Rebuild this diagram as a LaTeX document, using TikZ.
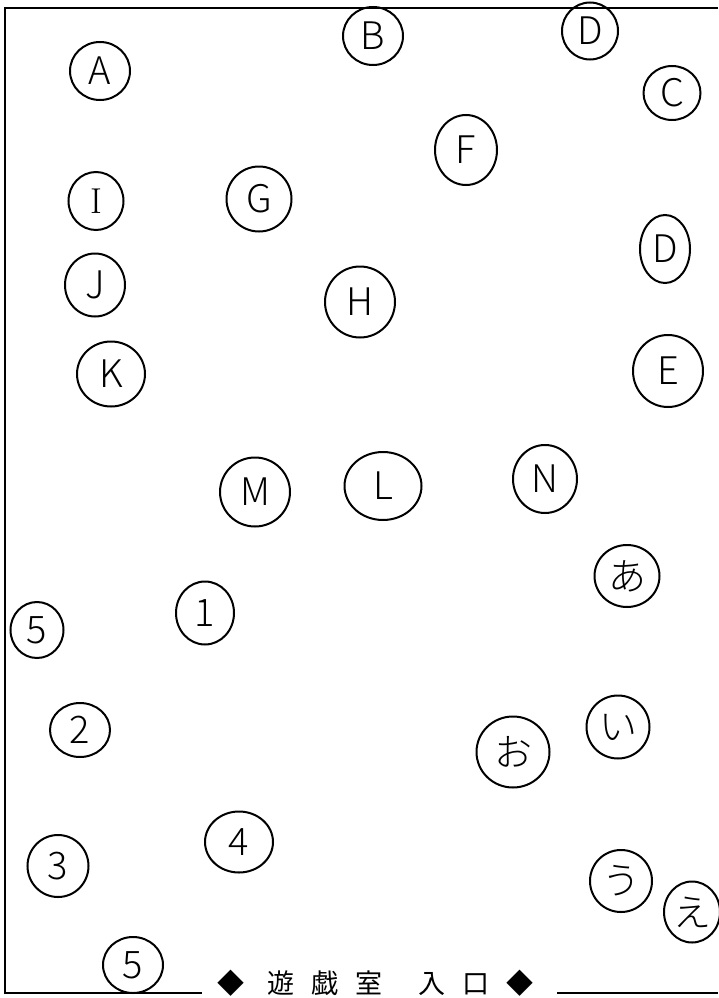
\documentclass[tikz,border=0pt]{standalone}
\usepackage{fontspec}
\usepackage{tikz}
\usetikzlibrary{shapes.geometric,positioning}
\newfontfamily\jp{Noto Sans CJK JP Light}
\newfontfamily\jpsign{Noto Sans CJK JP}

\begin{document}
\begin{tikzpicture}[
    x=1pt, y=-1pt,
    seat/.style={ellipse, draw, line width=2pt, inner sep=0pt, font=\jp\fontsize{38}{38}\selectfont},
    wall/.style={line width=2.2pt},
    sign/.style={font=\jpsign\fontsize{27}{27}\selectfont, inner sep=0pt}
]
\useasboundingbox (0,0) rectangle (718,998);

% Top rows
\node[seat, minimum width=60pt, minimum height=58pt] (a) at (100,71) {A};
\node[seat, minimum width=60pt, minimum height=58pt] (b) at (373,36) {B};
\node[seat, minimum width=56pt, minimum height=57pt] (d1) at (590,31) {D};
\node[seat, minimum width=57pt, minimum height=54pt] (c) at (672,93) {C};
\node[seat, minimum width=62pt, minimum height=70pt] (f) at (466,150) {F};
\node[seat, minimum width=55pt, minimum height=58pt, font=\rmfamily\fontsize{36}{36}\selectfont] (i) at (96,201) {I};
\node[seat, minimum width=65pt, minimum height=65pt] (g) at (259,199) {G};
\node[seat, minimum width=50pt, minimum height=68pt] (d2) at (665,249) {D};
\node[seat, minimum width=60pt, minimum height=63pt] (j) at (95,285) {J};
\node[seat, minimum width=70pt, minimum height=71pt] (h) at (360,302) {H};
\node[seat, minimum width=68pt, minimum height=65pt] (k) at (111,374) {K};
\node[seat, minimum width=70pt, minimum height=72pt] (e) at (668,371) {E};

% Middle row
\node[seat, minimum width=70pt, minimum height=69pt] (m) at (255,492) {M};
\node[seat, minimum width=77pt, minimum height=68pt] (l) at (383,486) {L};
\node[seat, minimum width=64pt, minimum height=68pt] (n) at (545,479) {N};

% Hiragana
\node[seat, minimum width=65pt, minimum height=62pt] (hira-a) at (627,576) {あ};
\node[seat, minimum width=63pt, minimum height=63pt] (hira-i) at (618,727) {い};
\node[seat, minimum width=73pt, minimum height=71pt] (hira-o) at (513,752) {お};
\node[seat, minimum width=62pt, minimum height=62pt] (hira-u) at (621,881) {う};
\node[seat, minimum width=56pt, minimum height=61pt] (hira-e) at (692,912) {え};

% Numbers
\node[seat, minimum width=53pt, minimum height=56pt] (s5a) at (37,630) {5};
\node[seat, minimum width=58pt, minimum height=63pt] (s1) at (205,613) {1};
\node[seat, minimum width=60pt, minimum height=54pt] (s2) at (80,730) {2};
\node[seat, minimum width=68pt, minimum height=61pt] (s4) at (239,842) {4};
\node[seat, minimum width=61pt, minimum height=62pt] (s3) at (58,866) {3};
\node[seat, minimum width=60pt, minimum height=56pt] (s5b) at (133,965) {5};

% Entrance
\node[sign] (entrance) at (375.5,983) {◆\hspace{24pt}遊\hspace{17pt}戯\hspace{17pt}室\hspace{36pt}入\hspace{16pt}口\hspace{18pt}◆};

% Walls
\draw[wall] (718,8) -- (5,8) -- (5,993) -- (202,993);
\draw[wall] (557,993) -- (718,993);

\end{tikzpicture}
\end{document}
